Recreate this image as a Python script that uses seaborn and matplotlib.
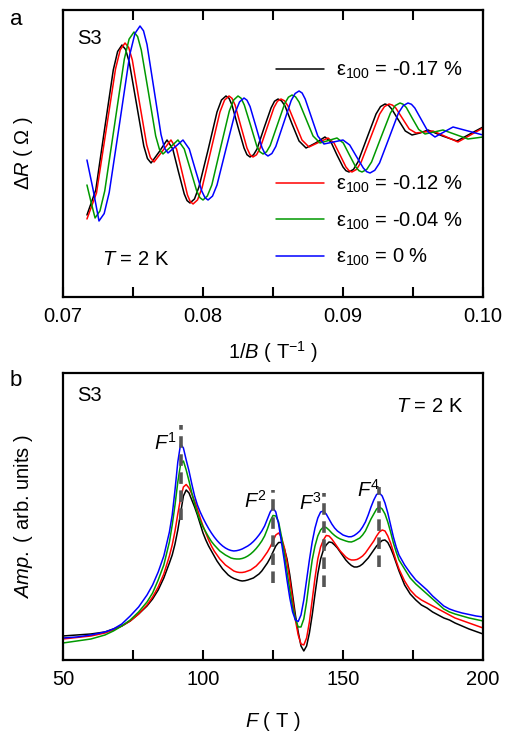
import numpy as np
import pandas as pd
import seaborn as sns
import matplotlib.pyplot as plt
from matplotlib.ticker import MultipleLocator

sns.set_style('ticks')
plt.rcParams['font.family'] = ['Liberation Sans', 'DejaVu Sans']
plt.rcParams['mathtext.fontset'] = 'custom'
plt.rcParams['mathtext.rm'] = 'Liberation Sans'
plt.rcParams['mathtext.it'] = 'Liberation Sans:italic'
plt.rcParams['mathtext.bf'] = 'Liberation Sans:bold'
for k in ['text.color', 'axes.labelcolor', 'xtick.color', 'ytick.color', 'axes.edgecolor']:
    plt.rcParams[k] = 'black'

# ---- panel a : oscillations vs 1/B (arb. units on y) ----
xa_black = [0.07171, 0.07234, 0.07296, 0.07359, 0.07390, 0.07421, 0.07447, 0.07473, 0.07525,
            0.07577, 0.07603, 0.07629, 0.07686, 0.07743, 0.07784, 0.07825, 0.07866, 0.07886,
            0.07907, 0.07939, 0.07971, 0.08036, 0.08100, 0.08132, 0.08164, 0.08186, 0.08207,
            0.08250, 0.08293, 0.08314, 0.08336, 0.08361, 0.08386, 0.08436, 0.08486, 0.08511,
            0.08536, 0.08561, 0.08586, 0.08636, 0.08686, 0.08736, 0.08804, 0.08871, 0.08914,
            0.08957, 0.09000, 0.09021, 0.09043, 0.09075, 0.09107, 0.09171, 0.09236, 0.09268,
            0.09300, 0.09324, 0.09348, 0.09396, 0.09445, 0.09493, 0.09550, 0.09607, 0.09711,
            0.09814, 0.09907, 0.10000]
ya_black = [82, 107, 167, 227, 245.5, 252, 247.5, 235, 193,
            151, 138.5, 134, 145, 157, 148, 125, 103, 96.4,
            94, 98, 110, 147, 185, 197, 201, 198.7, 192,
            170, 149, 142.3, 140, 142.2, 148, 169, 189, 195.8,
            198, 196.1, 191, 173, 156, 149, 154, 160, 155,
            142, 130, 126.3, 125, 127.6, 135, 159, 183, 190.4,
            193, 191.8, 188, 177, 166, 162, 164, 167, 161,
            156, 163, 170]

xa_red = [0.07171, 0.07239, 0.07307, 0.07375, 0.07409, 0.07443, 0.07469, 0.07495, 0.07546,
          0.07598, 0.07624, 0.07650, 0.07711, 0.07771, 0.07811, 0.07850, 0.07889, 0.07909,
          0.07929, 0.07961, 0.07993, 0.08057, 0.08121, 0.08154, 0.08186, 0.08207, 0.08229,
          0.08271, 0.08314, 0.08336, 0.08357, 0.08382, 0.08407, 0.08457, 0.08507, 0.08532,
          0.08557, 0.08582, 0.08607, 0.08657, 0.08707, 0.08757, 0.08825, 0.08893, 0.08936,
          0.08979, 0.09021, 0.09043, 0.09064, 0.09097, 0.09130, 0.09196, 0.09262, 0.09296,
          0.09329, 0.09353, 0.09377, 0.09425, 0.09473, 0.09521, 0.09582, 0.09643, 0.09732,
          0.09821, 0.09911, 0.10000]
ya_red = [78, 104, 166, 228, 247.3, 254, 249.5, 237, 194.5,
          152, 139.5, 135, 146, 157, 148, 125, 102, 95.4,
          93, 97.1, 109, 147, 185, 196.9, 201, 198.7, 192,
          170.5, 149, 142.3, 140, 142.2, 148.5, 169, 189.5, 195.8,
          198, 196.2, 191, 174, 157, 150, 154.5, 159, 154,
          142, 130, 126.3, 125, 127.6, 135, 159, 183, 190.4,
          193, 191.9, 189, 178.5, 168, 164, 165, 166, 160.5,
          155, 162, 169]

xa_green = [0.07171, 0.07200, 0.07229, 0.07264, 0.07298, 0.07368, 0.07438, 0.07472, 0.07507,
            0.07533, 0.07559, 0.07611, 0.07662, 0.07689, 0.07714, 0.07768, 0.07821, 0.07866,
            0.07911, 0.07955, 0.07978, 0.08000, 0.08031, 0.08063, 0.08125, 0.08188, 0.08219,
            0.08250, 0.08272, 0.08295, 0.08339, 0.08384, 0.08406, 0.08429, 0.08454, 0.08480,
            0.08532, 0.08584, 0.08610, 0.08636, 0.08661, 0.08686, 0.08736, 0.08786, 0.08836,
            0.08896, 0.08957, 0.09002, 0.09046, 0.09091, 0.09114, 0.09136, 0.09170, 0.09204,
            0.09271, 0.09339, 0.09373, 0.09407, 0.09429, 0.09452, 0.09496, 0.09541, 0.09586,
            0.09650, 0.09714, 0.09804, 0.09893, 0.10000]
ya_green = [112, 95, 79, 86.1, 106, 172, 238, 257.9, 265,
            260.4, 247, 204, 161, 147.6, 143, 150, 157, 148,
            127, 106, 99.3, 97, 101, 112, 149, 186, 197,
            201, 198.8, 192, 172, 151, 145.2, 143, 145.2, 151.5,
            172.5, 193.5, 199.8, 202, 200.2, 195, 178, 161, 154,
            156.5, 159, 154, 142, 130, 126.3, 125, 127.6, 135,
            159.5, 184, 191.4, 194, 192.8, 189.5, 178.5, 167.5, 163,
            165, 167, 162.5, 158, 160]

xa_blue = [0.07171, 0.07214, 0.07257, 0.07294, 0.07330, 0.07404, 0.07477, 0.07514, 0.07550,
           0.07575, 0.07600, 0.07650, 0.07700, 0.07725, 0.07750, 0.07804, 0.07857, 0.07902,
           0.07946, 0.07991, 0.08014, 0.08036, 0.08068, 0.08100, 0.08164, 0.08229, 0.08261,
           0.08293, 0.08314, 0.08336, 0.08379, 0.08421, 0.08443, 0.08464, 0.08492, 0.08520,
           0.08575, 0.08630, 0.08658, 0.08686, 0.08708, 0.08730, 0.08775, 0.08820, 0.08864,
           0.08932, 0.09000, 0.09048, 0.09096, 0.09145, 0.09169, 0.09193, 0.09227, 0.09261,
           0.09329, 0.09396, 0.09430, 0.09464, 0.09489, 0.09513, 0.09561, 0.09609, 0.09657,
           0.09721, 0.09786, 0.09893, 0.10000]
ya_blue = [137, 108, 76, 83.4, 104.5, 173.5, 242.5, 263.6, 271,
           266.2, 252.5, 207.5, 162.5, 148.8, 144, 150.5, 157, 148,
           127, 106, 99.3, 97, 100.9, 112, 148, 184, 195.1,
           199, 196.8, 190.5, 170, 149.5, 143.2, 141, 143.5, 150.5,
           173.5, 196.5, 203.5, 206, 204, 198, 179.5, 161, 153,
           155, 157, 152, 140.5, 129, 125.3, 124, 126.7, 134,
           159, 184, 191.3, 194, 192.7, 189, 177, 165, 160,
           165, 170, 166, 162]

labels_a = ['ε$_{100}$ = -0.17 %', 'ε$_{100}$ = -0.12 %',
            'ε$_{100}$ = -0.04 %', 'ε$_{100}$ = 0 %']
colors = ['black', '#ff0000', '#009900', '#0000ff']

# ---- panel b : FFT amplitude vs F (shared F grid) ----
F_grid = [50, 55, 60, 65, 68, 71, 74, 77, 80, 82, 84, 86,
          88, 89, 90, 91, 92, 93, 94, 95, 96, 97,
          98, 99, 100, 101, 102, 103, 104, 105, 106, 107,
          108, 109, 110, 111, 112, 113, 114, 115, 116, 117,
          118, 119, 120, 121, 122, 123, 124, 125, 126, 127,
          128, 129, 130, 131, 132, 133, 134, 135, 136, 137,
          138, 139, 140, 141, 142, 143, 144, 145, 146, 147,
          148, 149, 150, 151, 152, 153, 154, 155, 156, 157,
          158, 159, 160, 161, 162, 163, 164, 165, 166, 167,
          168, 169, 170,
          172, 174, 176, 178, 180, 182, 184, 186, 188, 190, 192.5, 195, 197.5, 200]

amp_black = [24, 25, 26, 28, 31, 34, 39, 46, 54, 61, 70, 82,
             97, 105, 116, 130, 147, 164, 170, 167, 160, 153,
             145, 136, 127, 120, 114, 109, 104, 99, 95, 91,
             88, 85, 83, 81.5, 80.5, 79.5, 79, 79.3, 80, 81,
             82, 84, 86, 89, 93, 97, 102, 108, 114, 117.5,
             117.5, 112, 101, 85, 65, 45, 28, 14, 9, 14,
             27, 45, 66, 86, 101, 110, 115, 118, 117.5, 115,
             112, 108, 104, 100, 97, 94.5, 93, 93, 94, 96,
             99, 102, 106, 110, 114, 117, 119.5, 120, 117.5, 112,
             105, 97, 89,
             75, 66, 60, 55, 52, 48, 45, 42, 40, 37, 34, 31, 28.5, 26]

amp_red = [21, 22.5, 24, 27, 30, 34, 39, 46, 55, 63, 73, 86,
           104, 115, 129, 146, 162, 173, 175.5, 172, 166, 159,
           151, 142, 134, 127, 120, 114, 109, 105, 101, 98,
           95, 93, 91, 89, 88, 87.5, 87.5, 88, 89, 90,
           92, 94, 97, 100, 104, 108, 113, 119, 125, 127,
           123, 113, 98, 80, 60, 40, 25, 16, 15, 22,
           38, 60, 82, 101, 113, 120, 124.5, 124, 121, 117,
           113, 109, 106, 103, 101, 100, 100, 100.5, 102, 104,
           107, 111, 115, 119, 124, 128, 130, 129, 124, 117,
           108, 99, 91,
           79, 70, 64, 60, 57, 54, 51, 48, 45, 42, 39.5, 37, 34.5, 32]

amp_green = [17, 19, 21, 25, 29, 34, 40, 48, 58, 67, 80, 95,
             118, 135, 155, 178, 196, 199, 190, 179, 167, 156,
             147, 139, 133, 128, 123, 118.5, 115, 112, 109, 107,
             105, 103.5, 102, 101.3, 101, 101, 101.5, 102.5, 104, 106,
             108.5, 111.5, 115, 119, 124, 131, 139, 144.5, 144, 138,
             124, 107, 88, 70, 53, 41, 33, 33, 41, 58,
             80, 100, 114, 124, 130, 133, 132.5, 130, 127, 124.5,
             122.5, 121, 120, 119, 118.2, 118, 119, 120.5, 122, 125,
             129, 135, 141, 146, 151, 153, 151, 146, 138, 128,
             117, 108, 100,
             91, 82, 76, 71, 66, 61, 56, 51, 48, 46, 44, 42, 40.5, 39]

amp_blue = [22, 23, 25, 28, 31, 36, 44, 53, 65, 75, 88, 104,
            128, 145, 170, 198, 216, 212, 200, 189, 176, 164,
            155, 148, 142, 136.5, 131.5, 127, 123, 119.5, 116.5, 114,
            112, 110.5, 109.5, 109, 109.3, 110, 111, 112.5, 114, 116,
            118.5, 121.5, 125, 129, 134, 141, 148, 152, 148, 136,
            118, 100, 80, 62, 48, 40, 38.5, 45, 60, 80,
            100, 118, 132, 142, 148, 149, 146, 141, 136, 132,
            129, 127, 125, 124, 123.2, 123.3, 124.5, 126.5, 129, 133,
            138, 145, 153, 160, 165.5, 167, 164, 157, 147, 135,
            123, 113, 105,
            95, 87, 80, 75, 70, 64, 59, 54, 51, 49, 47, 45.5, 44, 43]

peak_F = [92.1, 125.0, 143.2, 162.9]
peak_ymin = [140, 77, 73, 93]
peak_ymax = [235, 170, 167, 173]
peak_labels = ['$\\mathit{F}^{1}$', '$\\mathit{F}^{2}$', '$\\mathit{F}^{3}$', '$\\mathit{F}^{4}$']
peak_label_x = [90.7, 122.9, 142.5, 163.2]
peak_label_y = [217, 159, 157, 170]

fs = 14.5
fig = plt.figure(figsize=(5.09, 7.36), dpi=100)
ax1 = fig.add_axes([0.1238, 0.5965, 0.8251, 0.3899])
ax2 = fig.add_axes([0.1238, 0.1033, 0.8251, 0.3899])

curves_a = [(xa_black, ya_black), (xa_red, ya_red), (xa_green, ya_green), (xa_blue, ya_blue)]
for (xx, yy), c, lab in zip(curves_a, colors, labels_a):
    sns.lineplot(x=xx, y=yy, color=c, lw=1.1, ax=ax1, label=lab, estimator=None, sort=False)

handles, labs = ax1.get_legend_handles_labels()
ax1.get_legend().remove()
leg1 = ax1.legend(handles[:1], labs[:1], loc='center left', bbox_to_anchor=(0.507, 0.79),
                  frameon=False, fontsize=fs, handlelength=2.4, handletextpad=0.6,
                  borderpad=0, borderaxespad=0)
ax1.add_artist(leg1)
ax1.legend(handles[1:], labs[1:], loc='center left', bbox_to_anchor=(0.507, 0.265),
           frameon=False, fontsize=fs, handlelength=2.4, handletextpad=0.6,
           borderpad=0, borderaxespad=0, labelspacing=0.75)

amps_b = [amp_black, amp_red, amp_green, amp_blue]
for yy, c in zip(amps_b, colors):
    sns.lineplot(x=F_grid, y=yy, color=c, lw=1.1, ax=ax2, estimator=None, sort=False)

ax2.vlines(peak_F, peak_ymin, peak_ymax, colors='#555555', lw=2.6, linestyles=(0, (3.2, 1.8)))
for x, y, t in zip(peak_label_x, peak_label_y, peak_labels):
    ax2.text(x, y, t, ha='right', va='center', fontsize=fs)

ax1.set_xlim(0.07, 0.10)
ax1.set_ylim(0, 287)
ax1.set_xticks([0.07, 0.08, 0.09, 0.10])
ax1.set_xticklabels(['0.07', '0.08', '0.09', '0.10'])
ax1.xaxis.set_minor_locator(MultipleLocator(0.005))
ax1.tick_params(axis='x', which='both', direction='in', top=True, length=7, width=1.5,
                labelsize=fs, pad=7)

ax2.set_xlim(50, 200)
ax2.set_ylim(0, 287)
ax2.set_xticks([50, 100, 150, 200])
ax2.xaxis.set_minor_locator(MultipleLocator(25))
ax2.tick_params(axis='x', which='both', direction='in', top=False, length=7, width=1.5,
                labelsize=fs, pad=7)

for ax in (ax1, ax2):
    ax.tick_params(axis='y', which='both', left=False, right=False, labelleft=False)
    for s in ax.spines.values():
        s.set_linewidth(1.6)
        s.set_color('black')

ax1.set_xlabel('1/$\\mathit{B}$ ( T$^{-1}$ )', fontsize=fs, labelpad=10)
ax1.set_ylabel('Δ$\\mathit{R}$ ( Ω )', fontsize=fs, labelpad=20)
ax2.set_xlabel('$\\mathit{F}$ ( T )', fontsize=fs, labelpad=15)
ax2.set_ylabel('$\\mathit{Amp.}$ ( arb. units )', fontsize=fs, labelpad=20)

ax1.text(0.033, 0.902, 'S3', transform=ax1.transAxes, fontsize=fs, va='center', ha='left')
ax1.text(0.093, 0.132, '$\\mathit{T}$ = 2 K', transform=ax1.transAxes, fontsize=fs,
         va='center', ha='left')
ax2.text(0.033, 0.923, 'S3', transform=ax2.transAxes, fontsize=fs, va='center', ha='left')
ax2.text(0.952, 0.882, '$\\mathit{T}$ = 2 K', transform=ax2.transAxes, fontsize=fs,
         va='center', ha='right')

fig.text(0.0196, 0.974, 'a', fontsize=16, ha='left', va='center')
fig.text(0.0196, 0.483, 'b', fontsize=16, ha='left', va='center')

fig.savefig('out.png', dpi=100)
